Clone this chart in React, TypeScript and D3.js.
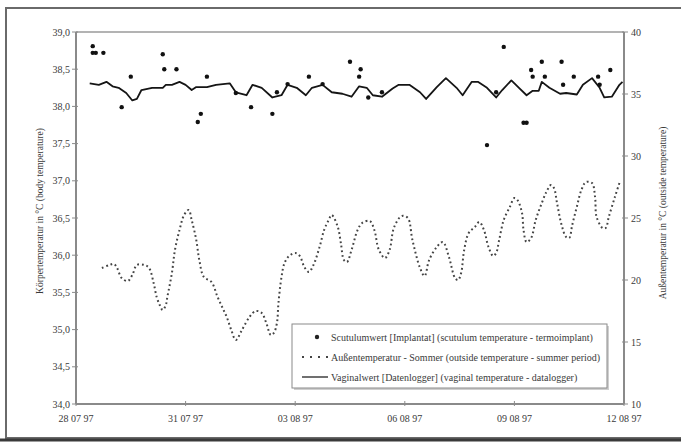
import * as d3 from "d3";

// Körpertemperatur / Außentemperatur, Sommer 1997
const startDate = new Date(1997, 6, 28);
const endDate = new Date(1997, 7, 12);

// x tick labels (every 3 days)
const tickDays = [0, 3, 6, 9, 12, 15];
const leftTicks = [34, 34.5, 35, 35.5, 36, 36.5, 37, 37.5, 38, 38.5, 39];
const rightTicks = [10, 15, 20, 25, 30, 35, 40];

// Vaginalwert (Datenlogger): [days after 28.07., °C]
const vaginal: [number, number][] = [
  [0.38, 38.31], [0.66, 38.29], [0.85, 38.33], [1.01, 38.27], [1.2, 38.25],
  [1.4, 38.18], [1.56, 38.08], [1.67, 38.1], [1.83, 38.22], [2.11, 38.25],
  [2.38, 38.25], [2.49, 38.29], [2.66, 38.29], [2.85, 38.33], [3.04, 38.29],
  [3.2, 38.22], [3.31, 38.26], [3.59, 38.26], [3.86, 38.29], [4.22, 38.31],
  [4.41, 38.19], [4.68, 38.15], [4.85, 38.29], [5.12, 38.25], [5.39, 38.12],
  [5.64, 38.15], [5.8, 38.29], [6.05, 38.25], [6.32, 38.15], [6.49, 38.25],
  [6.76, 38.29], [7.04, 38.19], [7.31, 38.17], [7.58, 38.13], [7.77, 38.27],
  [7.97, 38.25], [8.13, 38.15], [8.4, 38.13], [8.68, 38.24], [8.87, 38.29],
  [9.14, 38.29], [9.42, 38.19], [9.61, 38.1], [9.88, 38.26], [10.16, 38.38],
  [10.43, 38.25], [10.59, 38.15], [10.87, 38.33], [11.0, 38.33], [11.25, 38.25],
  [11.52, 38.12], [11.69, 38.22], [11.94, 38.35], [12.15, 38.25], [12.37, 38.15],
  [12.51, 38.21], [12.7, 38.21], [12.78, 38.33], [12.98, 38.25], [13.25, 38.17],
  [13.44, 38.18], [13.71, 38.16], [13.88, 38.29], [14.15, 38.38], [14.34, 38.25],
  [14.48, 38.12], [14.7, 38.13], [14.89, 38.29], [14.97, 38.33],
];

// Scutulumwert (Implantat)
const scutulum: [number, number][] = [
  [0.49, 38.81], [0.47, 38.72], [0.55, 38.72], [0.77, 38.72], [1.26, 37.99],
  [1.53, 38.4], [2.38, 38.7], [2.44, 38.5], [2.79, 38.5], [3.42, 37.9],
  [3.37, 37.79], [3.61, 38.4], [4.41, 38.18], [4.82, 37.99], [5.39, 37.9],
  [5.5, 38.19], [5.8, 38.3], [6.38, 38.4], [6.79, 38.3], [7.53, 38.6],
  [7.83, 38.5], [7.77, 38.4], [8.02, 38.12], [8.4, 38.19], [11.28, 37.48],
  [11.5, 38.19], [11.74, 38.8], [12.27, 37.78], [12.36, 37.78], [12.46, 38.49],
  [12.51, 38.4], [12.76, 38.6], [12.84, 38.4], [13.3, 38.6], [13.35, 38.29],
  [13.63, 38.4], [14.32, 38.4], [14.34, 38.29], [14.65, 38.49],
];

// Außentemperatur - Sommer
const outside: [number, number][] = [
  [0.74, 20.97], [0.93, 21.21], [1.07, 21.29], [1.15, 20.97], [1.29, 20.16],
  [1.42, 19.92], [1.56, 20.4], [1.7, 21.21], [1.89, 21.21], [2.03, 20.97],
  [2.16, 19.76], [2.24, 18.63], [2.3, 17.98], [2.38, 17.58], [2.46, 17.98],
  [2.52, 18.63], [2.63, 20.56], [2.71, 22.42], [2.85, 24.03], [2.98, 25.24],
  [3.12, 25.65], [3.2, 24.84], [3.31, 23.23], [3.39, 21.61], [3.53, 20.24],
  [3.72, 19.84], [3.89, 18.63], [4.0, 17.82], [4.13, 17.02], [4.27, 15.97],
  [4.41, 15.16], [4.57, 15.97], [4.76, 17.02], [4.95, 17.5], [5.09, 17.34],
  [5.23, 16.53], [5.37, 15.56], [5.45, 15.73], [5.53, 16.53], [5.58, 18.15],
  [5.64, 20.24], [5.72, 21.37], [5.86, 21.94], [6.0, 22.18], [6.13, 21.94],
  [6.27, 21.05], [6.41, 20.65], [6.54, 21.21], [6.68, 22.66], [6.82, 24.03],
  [6.95, 24.84], [7.04, 25.24], [7.17, 24.27], [7.28, 22.98], [7.36, 21.61],
  [7.45, 21.45], [7.58, 22.42], [7.72, 24.03], [7.86, 24.6], [8.05, 24.76],
  [8.19, 24.03], [8.32, 22.42], [8.46, 21.77], [8.6, 22.42], [8.73, 24.27],
  [8.92, 25.16], [9.09, 25.0], [9.23, 23.23], [9.42, 20.97], [9.55, 20.32],
  [9.69, 21.61], [9.88, 22.66], [10.05, 23.06], [10.24, 21.85], [10.38, 20.16],
  [10.46, 20.0], [10.57, 20.56], [10.65, 22.42], [10.79, 23.79], [10.92, 24.27],
  [11.06, 24.68], [11.2, 24.03], [11.33, 22.66], [11.42, 21.94], [11.52, 22.18],
  [11.61, 23.23], [11.74, 24.84], [11.88, 25.89], [12.02, 26.61], [12.1, 26.45],
  [12.21, 25.4], [12.29, 24.03], [12.37, 23.06], [12.48, 23.39], [12.62, 24.84],
  [12.76, 26.21], [12.89, 27.1], [13.03, 27.66], [13.11, 27.42], [13.19, 26.21],
  [13.33, 24.44], [13.44, 23.47], [13.52, 23.39], [13.61, 24.44], [13.71, 25.89],
  [13.85, 27.26], [13.99, 27.9], [14.13, 27.82], [14.21, 26.69], [14.29, 25.08],
  [14.43, 24.19], [14.54, 24.19], [14.62, 25.08], [14.76, 26.69], [14.89, 27.82],
];

const legendLabels = [
  "Scutulumwert [Implantat] (scutulum temperature - termoimplant)",
  "Außentemperatur - Sommer (outside temperature - summer period)",
  "Vaginalwert [Datenlogger] (vaginal temperature - datalogger)",
];

const W = 681;
const H = 442;
const plot = { left: 76, right: 624, top: 32, bottom: 404 };
const serif = "'Liberation Serif', 'Times New Roman', serif";

const toDate = (d: number) => d3.timeHour.offset(startDate, Math.round(d * 24 * 60) / 60);

export default function App() {
  const x = d3.scaleTime().domain([startDate, endDate]).range([plot.left, plot.right]);
  const yL = d3.scaleLinear().domain([34, 39]).range([plot.bottom, plot.top]);
  const yR = d3.scaleLinear().domain([10, 40]).range([plot.bottom, plot.top]);
  const fmtDate = d3.timeFormat("%d %m %y");
  const fmtL = (v: number) => d3.format(".1f")(v).replace(".", ",");

  const vagLine = d3
    .line<[number, number]>()
    .x((d) => x(toDate(d[0])))
    .y((d) => yL(d[1]));
  const outLine = d3
    .line<[number, number]>()
    .x((d) => x(toDate(d[0])))
    .y((d) => yR(d[1]))
    .curve(d3.curveCatmullRom);

  const axisColor = "#8a8a8a";
  const textColor = "#3a3a3a";
  const lg = { x: 292, y: 324, w: 315, h: 64 };

  return (
    <svg
      width={W}
      height={H}
      viewBox={`0 0 ${W} ${H}`}
      style={{ position: "absolute", left: 0, top: 0, background: "#fff" }}
      fontFamily={serif}
    >
      {/* outer frame */}
      <rect x={6} y={8} width={720} height={430} fill="none" stroke="#6a6a6a" strokeWidth={2} />
      <line x1={0} x2={W} y1={440} y2={440} stroke="#3a3a3a" strokeWidth={3} />

      {/* plot frame */}
      <line x1={plot.left} x2={plot.right} y1={plot.top} y2={plot.top} stroke="#9a9a9a" strokeWidth={1.5} />
      <line x1={plot.left} x2={plot.left} y1={plot.top} y2={plot.bottom} stroke={axisColor} strokeWidth={2} />
      <line x1={plot.right} x2={plot.right} y1={plot.top} y2={plot.bottom} stroke={axisColor} strokeWidth={2} />
      <line x1={plot.left} x2={plot.right} y1={plot.bottom} y2={plot.bottom} stroke={axisColor} strokeWidth={2} />

      {/* left axis */}
      {leftTicks.map((t) => (
        <g key={`l${t}`}>
          <line x1={plot.left - 4} x2={plot.left + 2} y1={yL(t)} y2={yL(t)} stroke={axisColor} />
          <text x={plot.left - 6} y={yL(t) + 3.5} textAnchor="end" fontSize={10} fill={textColor}>
            {fmtL(t)}
          </text>
        </g>
      ))}
      {/* right axis */}
      {rightTicks.map((t) => (
        <g key={`r${t}`}>
          <line x1={plot.right - 2} x2={plot.right + 4} y1={yR(t)} y2={yR(t)} stroke={axisColor} />
          <text x={plot.right + 7} y={yR(t) + 3.5} textAnchor="start" fontSize={10} fill={textColor}>
            {t}
          </text>
        </g>
      ))}
      {/* x axis */}
      {tickDays.map((d) => {
        const dt = d3.timeDay.offset(startDate, d);
        return (
          <g key={`x${d}`}>
            <line x1={x(dt)} x2={x(dt)} y1={plot.bottom - 3} y2={plot.bottom + 2} stroke={axisColor} />
            <text x={x(dt)} y={422} textAnchor="middle" fontSize={10} fill={textColor}>
              {fmtDate(dt)}
            </text>
          </g>
        );
      })}

      {/* axis titles */}
      <text
        transform={`translate(43, 211) rotate(-90)`}
        textAnchor="middle"
        fontSize={9.5}
        fill={textColor}
      >
        Körpertemperatur in °C (body temperature)
      </text>
      <text
        transform={`translate(666, 213) rotate(-90)`}
        textAnchor="middle"
        fontSize={9.5}
        fill={textColor}
      >
        Außentemperatur in °C (outside temperature)
      </text>

      {/* series */}
      <path
        d={outLine(outside) || ""}
        fill="none"
        stroke="#444"
        strokeWidth={2}
        strokeDasharray="1.8 2.8"
      />
      <path d={vagLine(vaginal) || ""} fill="none" stroke="#151515" strokeWidth={1.8} strokeLinejoin="round" />
      {scutulum.map((d, i) => (
        <circle key={`s${i}`} cx={x(toDate(d[0]))} cy={yL(d[1])} r={2.2} fill="#111" />
      ))}

      {/* legend */}
      <rect x={lg.x + 2} y={lg.y + 2} width={lg.w} height={lg.h} fill="#cfcfcf" />
      <rect x={lg.x} y={lg.y} width={lg.w} height={lg.h} fill="#fff" stroke="#8a8a8a" strokeWidth={1} />
      {legendLabels.map((label, i) => {
        const cy = lg.y + 13 + i * 20;
        return (
          <g key={label}>
            {i === 0 && <circle cx={317} cy={cy} r={2.2} fill="#222" />}
            {i === 1 && (
              <line x1={302} x2={328} y1={cy} y2={cy} stroke="#444" strokeWidth={2} strokeDasharray="2 6" />
            )}
            {i === 2 && <line x1={302} x2={328} y1={cy} y2={cy} stroke="#222" strokeWidth={1.3} />}
            <text x={331} y={cy + 3.5} fontSize={10} fill={textColor}>
              {label}
            </text>
          </g>
        );
      })}
    </svg>
  );
}
